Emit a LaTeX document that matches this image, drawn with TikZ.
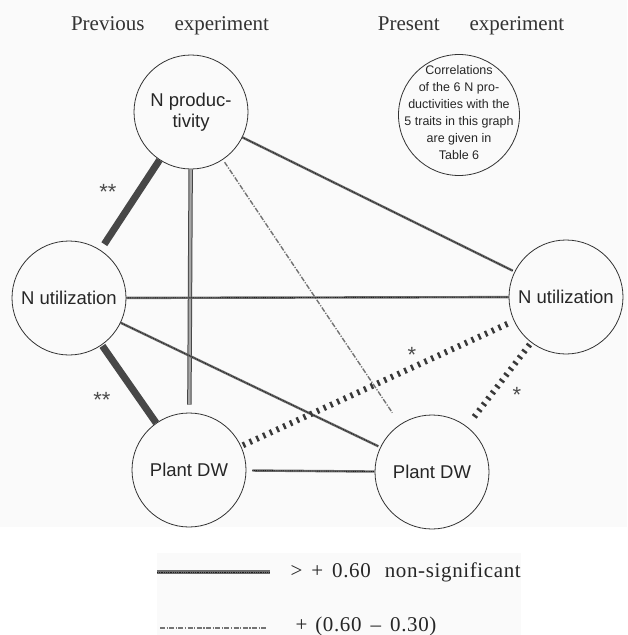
\documentclass[tikz,border=0pt]{standalone}
\usepackage{fontspec}
\setmainfont{Liberation Serif}
\setsansfont{Liberation Sans}
\begin{document}
\begin{tikzpicture}[x=1pt,y=-1pt,
  trait/.style={circle,draw=black!80,line width=0.8pt,inner sep=0pt,minimum size=114pt,
    font=\sffamily\fontsize{18.5}{21}\selectfont,align=center,text=black!85},
  heading/.style={font=\fontsize{21}{24}\selectfont,text=black!80},
  legtext/.style={anchor=west,font=\fontsize{21}{24}\selectfont\addfontfeature{LetterSpace=3},text=black!85},
  star/.style={font=\sffamily\fontsize{22}{22}\selectfont,text=black!70},
  strong/.style={draw=black!72,line width=7pt},
  sigline/.style={draw=black!58,line width=2.4pt,
    postaction={draw=black!88,line width=0.9pt,dash pattern=on 0.9pt off 0.9pt}},
  sigdouble/.style={draw=black!72,double=black!35,line width=1pt,double distance=2.4pt},
  weakline/.style={draw=black!55,line width=1.4pt,dash pattern=on 5pt off 1.5pt on 1.2pt off 1.5pt},
  tickline/.style={draw=black!78,line width=6pt,dash pattern=on 2.4pt off 5pt}
]
\useasboundingbox (0,0) rectangle (627,635);
\fill[black!2] (0,0) rectangle (627,527);
\fill[black!2] (157,553) rectangle (521,635);

% headings
\node[heading] (hprev) at (170,26) {Previous\hspace{30pt}experiment};
\node[heading] (hpres) at (471,26) {Present\hspace{30pt}experiment};

% trait circles
\node[trait] (np) at (191,112) {N produc-\\tivity};
\node[trait] (nul) at (69,298) {N utilization};
\node[trait] (nur) at (566,297) {N utilization};
\node[trait] (pdwl) at (189,470) {Plant DW};
\node[trait] (pdwr) at (432,472) {Plant DW};

% note circle
\node[circle,draw=black!80,line width=0.8pt,minimum size=121pt,inner sep=0pt] (corr) at (459,115) {};
\node[align=center,inner sep=0pt,font=\sffamily\fontsize{12.5}{17}\selectfont,text=black!85] (corrtext) at (459,113)
  {Correlations\\of the 6\hspace{4pt}N pro-\\ductivities with the\\5 traits in this graph\\are given in\\Table 6};

% connectors
\draw[strong,shorten >=7pt] (np) -- (nul);
\draw[strong,shorten <=1pt] (nul) -- (pdwl);
\draw[sigdouble,shorten >=8pt] (np) -- (pdwl);
\draw[sigline,shorten >=2pt] (np) -- (nur);
\draw[weakline,shorten <=3pt,shorten >=14pt] (np) -- (pdwr);
\draw[sigline] (nul) -- (nur);
\draw[sigline,shorten >=2pt] (nul) -- (pdwr);
\draw[sigline,shorten <=6pt] (pdwl) -- (pdwr);
\draw[tickline,shorten <=2pt,shorten >=4pt] (pdwl) -- (nur);
\draw[tickline,shorten <=12pt,shorten >=2pt] (pdwr) -- (nur);

% significance marks
\node[star] (s1) at (108,192) {**};
\node[star] (s2) at (102,400) {**};
\node[star] (s3) at (412,355) {*};
\node[star] (s4) at (517,395) {*};

% legend
\coordinate (l1a) at (157,572);
\coordinate (l1b) at (270,572);
\draw[sigline,line width=3.4pt] (l1a) -- (l1b);
\node[legtext] (l1t) at (287,572) {>\hspace{9pt}+\hspace{9pt}0.60\hspace{14pt}non-significant};
\coordinate (l2a) at (160,628);
\coordinate (l2b) at (267,628);
\draw[weakline] (l2a) -- (l2b);
\node[legtext] (l2t) at (292,626) {+\hspace{8pt}(0.60\hspace{9pt}--\hspace{9pt}0.30)};
\end{tikzpicture}
\end{document}
